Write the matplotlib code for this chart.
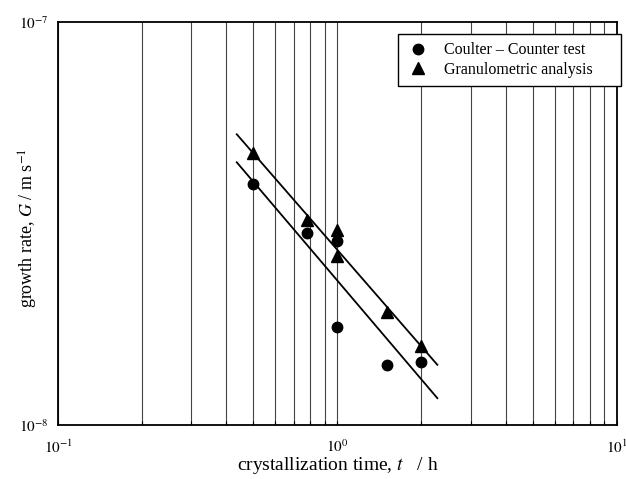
"""
Crystal growth rate vs crystallization time (log-log), two sizing methods.

    python plot.py   -> out.png
"""

import matplotlib
matplotlib.use("Agg")
import matplotlib.pyplot as plt
from matplotlib.ticker import LogLocator, NullFormatter, FixedLocator, FixedFormatter

plt.rcParams["font.family"] = ["Liberation Serif", "DejaVu Serif"]
plt.rcParams["mathtext.fontset"] = "stix"

# data
t_coulter = [0.5, 0.78, 1.0, 1.0, 1.5, 2.0]
G_coulter = [3.96e-8, 2.99e-8, 2.87e-8, 1.75e-8, 1.41e-8, 1.43e-8]
t_granulo = [0.5, 0.78, 1.0, 1.0, 1.5, 2.0]
G_granulo = [4.73e-8, 3.23e-8, 3.05e-8, 2.63e-8, 1.91e-8, 1.57e-8]

# straight-line fits (end points of the drawn lines)
fit_t = [0.436, 2.28]
fit_upper = [5.27e-8, 1.41e-8]
fit_lower = [4.49e-8, 1.165e-8]

x_ticks = [0.1, 1, 10]
x_labels = ["$10^{-1}$", "$10^{0}$", "$10^{1}$"]
y_ticks = [1e-8, 1e-7]
y_labels = ["$10^{-8}$", "$10^{-7}$"]

fig = plt.figure(figsize=(6.26, 4.79), dpi=100)
ax = fig.add_axes([0.093, 0.113, 0.892, 0.8405])
ax.set_xscale("log")
ax.set_yscale("log")
ax.set_xlim(0.1, 10)
ax.set_ylim(1e-8, 1e-7)

# vertical grid at every x tick (major and minor)
ax.xaxis.set_major_locator(FixedLocator(x_ticks))
ax.xaxis.set_major_formatter(FixedFormatter(x_labels))
ax.xaxis.set_minor_locator(LogLocator(base=10, subs=range(2, 10)))
ax.xaxis.set_minor_formatter(NullFormatter())
ax.grid(True, which="both", axis="x", color="#444444", lw=0.8)
ax.tick_params(axis="x", which="both", direction="in", length=3, width=0.8,
               pad=10, labelsize=11)

ax.yaxis.set_major_locator(FixedLocator(y_ticks))
ax.yaxis.set_major_formatter(FixedFormatter(y_labels))
ax.yaxis.set_minor_locator(FixedLocator([]))
ax.tick_params(axis="y", which="both", length=0, pad=7, labelsize=11)

for s in ax.spines.values():
    s.set_linewidth(1.3)

ax.plot(fit_t, fit_upper, color="black", lw=1.3, zorder=3)
ax.plot(fit_t, fit_lower, color="black", lw=1.3, zorder=3)
# trailing spaces leave the empty room on the right of the legend box
ax.plot(t_coulter, G_coulter, "o", color="black", ms=7.5, ls="none",
        label="Coulter \u2013 Counter test     ", zorder=4)
ax.plot(t_granulo, G_granulo, "^", color="black", ms=8, ls="none",
        label="Granulometric analysis     ", zorder=4)

leg = ax.legend(loc="upper right", bbox_to_anchor=(0.992, 0.928),
                bbox_transform=fig.transFigure, fontsize=11.5,
                fancybox=False, framealpha=1, edgecolor="black",
                handlelength=1.5, handletextpad=0.9, borderpad=0.5,
                labelspacing=0.2, borderaxespad=0)
leg.get_frame().set_linewidth(1.0)

ax.set_xlabel("crystallization time, $t$   / h", fontsize=14)
ax.xaxis.set_label_coords(0.5, -0.074)
ax.set_ylabel("growth rate, $G$ / m s$^{-1}$", fontsize=13)
ax.yaxis.set_label_coords(-0.033, 0.49)

fig.savefig("out.png", dpi=100)
